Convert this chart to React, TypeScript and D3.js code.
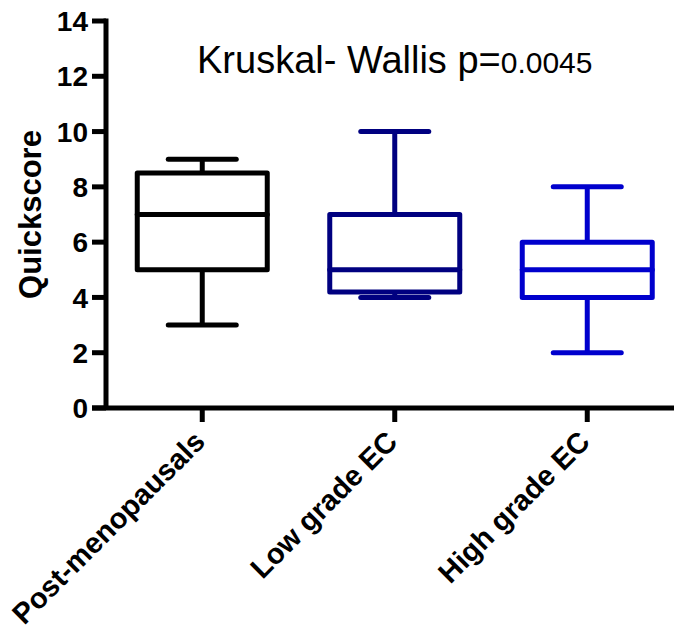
import React from "react";
import * as d3 from "d3";

const categories = ["Post-menopausals", "Low grade EC", "High grade EC"];
const whiskerLow = [3, 4, 2];
const q1 = [5, 4.2, 4];
const median = [7, 5, 5];
const q3 = [8.5, 7, 6];
const whiskerHigh = [9, 10, 8];
const colors = ["#000000", "#000080", "#0000CD"];
const yTicks = [0, 2, 4, 6, 8, 10, 12, 14];
const yTitle = "Quickscore";
const titleMain = "Kruskal- Wallis p=";
const titleP = "0.0045";

const W = 674;
const H = 633;
const FONT = "'Liberation Sans', Arial, Helvetica, sans-serif";

export default function App() {
  const axisX = 106;
  const axisY = 408;
  const y = d3.scaleLinear().domain([0, 14]).range([axisY, 21]);
  const x = d3.scaleBand<string>().domain(categories).range([axisX, 683.5]);
  const bw = 130;
  const cw = 68;
  const sw = 5;

  return (
    <svg
      width={W}
      height={H}
      style={{ position: "absolute", left: 0, top: 0, display: "block", background: "#fff" }}
      fontFamily={FONT}
    >
      {/* boxes */}
      {categories.map((c, i) => {
        const cx = (x(c) as number) + x.bandwidth() / 2;
        const col = colors[i];
        return (
          <g key={c} stroke={col} strokeWidth={sw} fill="none" strokeLinejoin="round" strokeLinecap="round">
            <line x1={cx} x2={cx} y1={y(whiskerHigh[i])} y2={y(q3[i])} strokeLinecap="butt" />
            <line x1={cx} x2={cx} y1={y(q1[i])} y2={y(whiskerLow[i])} strokeLinecap="butt" />
            <line x1={cx - cw / 2} x2={cx + cw / 2} y1={y(whiskerHigh[i])} y2={y(whiskerHigh[i])} />
            <line x1={cx - cw / 2} x2={cx + cw / 2} y1={y(whiskerLow[i])} y2={y(whiskerLow[i])} />
            <rect x={cx - bw / 2} y={y(q3[i])} width={bw} height={y(q1[i]) - y(q3[i])} />
            <line x1={cx - bw / 2} x2={cx + bw / 2} y1={y(median[i])} y2={y(median[i])} />
          </g>
        );
      })}

      {/* y axis */}
      <line x1={axisX} x2={axisX} y1={y(14) - sw / 2} y2={axisY} stroke="#000" strokeWidth={sw} />
      {yTicks.map((t) => (
        <g key={t}>
          <line x1={axisX - 14} x2={axisX} y1={y(t)} y2={y(t)} stroke="#000" strokeWidth={sw} />
          <text
            x={axisX - 18}
            y={y(t)}
            dy="0.36em"
            textAnchor="end"
            fontSize={28}
            fontWeight="bold"
            fill="#000"
          >
            {t}
          </text>
        </g>
      ))}

      {/* x axis */}
      <line x1={axisX - 14} x2={W} y1={axisY} y2={axisY} stroke="#000" strokeWidth={sw} />
      {categories.map((c) => {
        const cx = (x(c) as number) + x.bandwidth() / 2;
        return (
          <g key={c}>
            <line x1={cx} x2={cx} y1={axisY} y2={axisY + 14} stroke="#000" strokeWidth={sw} />
            <text
              transform={`translate(${cx - 3},${axisY + 28}) rotate(-45)`}
              textAnchor="end"
              dy="0.36em"
              fontSize={29}
              fontWeight="bold"
              fill="#000"
            >
              {c}
            </text>
          </g>
        );
      })}

      {/* y title */}
      <text
        transform={`translate(41,${(y(0) + y(14)) / 2}) rotate(-90)`}
        textAnchor="middle"
        fontSize={31}
        fontWeight="bold"
        fill="#000"
      >
        {yTitle}
      </text>

      {/* annotation */}
      <text x={(x(categories[1]) as number) + x.bandwidth() / 2} y={73} textAnchor="middle" fontSize={38} fill="#000">
        {titleMain}
        <tspan fontSize={30}>{titleP}</tspan>
      </text>
    </svg>
  );
}
